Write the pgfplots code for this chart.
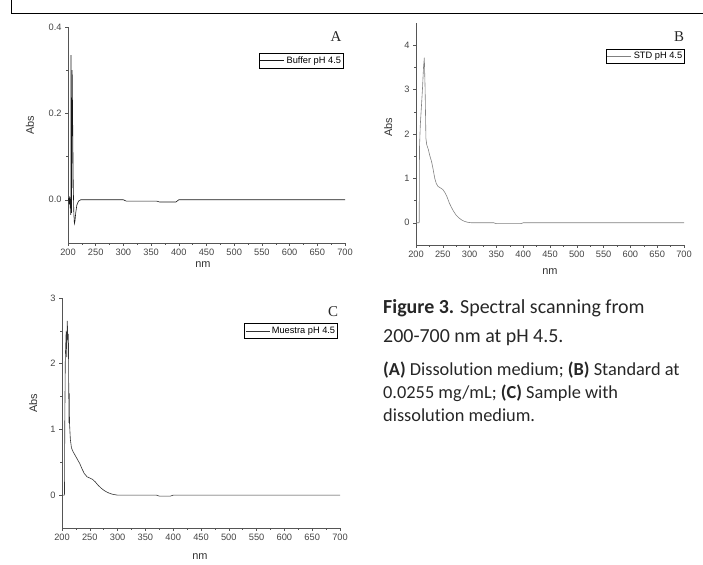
\documentclass[border=0pt]{standalone}
\usepackage{pgfplots}
\pgfplotsset{compat=1.18}
\usepackage{fontspec}
\setmainfont{Liberation Sans}
\newfontfamily\serifA{Liberation Serif}
\newfontfamily\capfont[Ligatures=NoCommon]{Carlito}

\definecolor{axisgray}{HTML}{555555}
\definecolor{labgray}{HTML}{444444}

\pgfplotsset{
  spec/.style={
    scale only axis,
    axis lines=left,
    axis line style={-, draw=axisgray, line width=0.6bp},
    tick align=outside,
    major tick length=3bp, minor tick length=1.8bp,
    every tick/.style={draw=axisgray, line width=0.5bp},
    xmin=200, xmax=700, xtick={200,250,...,700},
    minor x tick num=1, minor y tick num=1,
    tick label style={font=\fontsize{9.3}{10}\selectfont, text=labgray},
    /pgf/number format/assume math mode=true,
    label style={font=\fontsize{11}{12}\selectfont, text=black!80},
    xlabel={nm}, ylabel={Abs},
    legend cell align=left,
    legend style={draw=black, line width=0.6bp, inner xsep=0.6bp, inner ysep=1.4bp,
      font=\fontsize{9.3}{10}\selectfont, anchor=north east},
    legend image code/.code={\draw[#1] (0bp,0bp) -- (24bp,0bp);},
  },
}

\begin{document}
\begin{tikzpicture}[x=1bp,y=1bp]
\useasboundingbox (0,0) rectangle (703,565);
\draw[line width=0.8bp] (11,565) -- (11,552) -- (703,552);

% Panel A: buffer
\begin{axis}[spec, at={(68bp,322bp)}, anchor=south west,
  width=277bp, height=216bp,
  ymin=-0.1, ymax=0.4, ytick={0,0.2,0.4},
  yticklabel style={/pgf/number format/.cd, fixed, fixed zerofill, precision=1},
  xlabel style={at={(axis description cs:0.487,-0.102)}, anchor=center},
  ylabel style={at={(axis description cs:-0.137,0.546)}, anchor=center},
  legend style={at={(0.996,0.88)}},
]
\addplot[line width=0.6bp, color=black!90] coordinates {
(200,0)(201,0.002)(202,-0.01)(203,0.008)(204,-0.02)(204.5,-0.005)(205,-0.035)
(205.5,0.335)(206.5,-0.03)(207.5,0.30)(208.5,0.17)(209.5,0.03)(210.5,-0.03)
(211.5,-0.055)(212.5,-0.05)(214,-0.03)(216,-0.012)(219,-0.003)(223,0)
(300,0)(305,-0.003)(360,-0.003)(365,-0.005)(395,-0.005)(400,0)(700,0)};
\addlegendentry{Buffer pH 4.5}
\end{axis}

% Panel B: standard
\begin{axis}[spec, at={(416bp,320bp)}, anchor=south west,
  width=268bp, height=222bp,
  ymin=-0.5, ymax=4.5, ytick={0,1,2,3,4},
  xlabel style={at={(axis description cs:0.5,-0.12)}, anchor=center},
  ylabel style={at={(axis description cs:-0.104,0.53)}, anchor=center},
  legend style={at={(1.004,0.885)}},
]
\addplot[line width=0.6bp, color=black!50] coordinates {
(200,0)(205.5,0)(206,0.02)(206.5,1.7)(208,2.2)(210,2.6)(212,3.0)(214,3.5)
(215.5,3.72)(217,3.0)(218.5,1.9)(220,1.76)(223,1.65)(226,1.5)(229,1.38)
(232,1.2)(235,1.0)(238,0.88)(241,0.82)(245,0.79)(250,0.75)(254,0.68)
(258,0.58)(262,0.45)(266,0.35)(270,0.26)(275,0.17)(280,0.11)(285,0.065)
(290,0.035)(295,0.015)(300,0.005)(305,0)(345,0)(350,-0.02)(395,-0.02)
(400,0)(700,0)};
\addlegendentry{STD pH 4.5}
\end{axis}

% Panel C: sample
\begin{axis}[spec, at={(62bp,37bp)}, anchor=south west,
  width=278bp, height=230bp,
  ymin=-0.5, ymax=3, ytick={0,1,2,3},
  xlabel style={at={(axis description cs:0.496,-0.126)}, anchor=center},
  ylabel style={at={(axis description cs:-0.104,0.543)}, anchor=center},
  legend style={at={(0.993,0.89)}},
]
\addplot[line width=0.6bp, color=black!80] coordinates {
(200,0)(204,0)(204.5,0.02)(205,1.1)(206,2.1)(207.5,2.5)(208.5,2.1)
(209.5,2.65)(210.5,2.4)(211.5,2.45)(212.5,1.1)(213,1.55)(213.5,1.1)
(215,0.85)(217,0.72)(220,0.66)(224,0.6)(228,0.54)(232,0.48)(236,0.4)
(240,0.33)(245,0.28)(250,0.26)(255,0.24)(260,0.2)(265,0.15)(270,0.11)
(275,0.075)(280,0.05)(285,0.03)(290,0.015)(295,0.007)(300,0)(370,0)
(375,-0.015)(395,-0.015)(400,0)(700,0)};
\addlegendentry{Muestra pH 4.5}
\end{axis}

% panel letters
\node[font=\serifA\fontsize{15}{15}\selectfont, text=black!85] at (336,528) {A};
\node[font=\serifA\fontsize{15}{15}\selectfont, text=black!85] at (679,528) {B};
\node[font=\serifA\fontsize{15}{15}\selectfont, text=black!85] at (333,253) {C};

% caption
\begin{scope}[every node/.style={anchor=base west, inner sep=0pt, text=black!85}]
\node[font=\capfont\fontsize{20}{20}\selectfont] at (383,251) {\textbf{Figure 3.} Spectral scanning from};
\node[font=\capfont\fontsize{20}{20}\selectfont] at (383,222) {200-700 nm at pH 4.5.};
\node[font=\capfont\fontsize{18.4}{18.4}\selectfont] at (383,189) {\textbf{(A)} Dissolution medium; \textbf{(B)} Standard at};
\node[font=\capfont\fontsize{18.4}{18.4}\selectfont] at (383,166) {0.0255 mg/mL; \textbf{(C)} Sample with};
\node[font=\capfont\fontsize{18.4}{18.4}\selectfont] at (383,143) {dissolution medium.};
\end{scope}
\end{tikzpicture}
\end{document}
